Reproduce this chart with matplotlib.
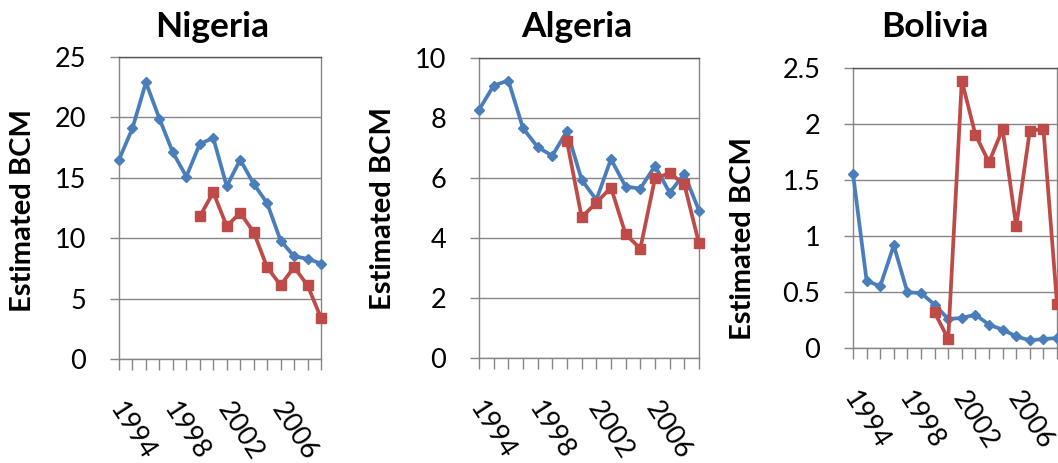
import numpy as np
from matplotlib import pyplot as plt
from matplotlib import transforms

plt.rcParams["font.family"] = ["Lato", "DejaVu Sans"]

years = list(range(1994, 2010))
red_years = years[6:]
label_years = [1994, 1998, 2002, 2006]

countries = ["Nigeria", "Algeria", "Bolivia"]

nigeria_blue = [16.5, 19.1, 22.9, 19.9, 17.1, 15.1, 17.8, 18.3, 14.3, 16.5, 14.5, 12.9, 9.8, 8.5, 8.3, 7.9]
nigeria_red = [11.8, 13.8, 11.0, 12.1, 10.5, 7.6, 6.1, 7.6, 6.1, 3.4]

algeria_blue = [8.27, 9.08, 9.25, 7.66, 7.03, 6.74, 7.57, 5.94, 5.27, 6.63, 5.71, 5.65, 6.40, 5.51, 6.14, 4.91]
algeria_red = [7.22, 4.69, 5.18, 5.68, 4.12, 3.65, 5.99, 6.16, 5.79, 3.82]

bolivia_blue = [1.556, 0.601, 0.551, 0.917, 0.497, 0.491, 0.387, 0.259, 0.268, 0.298, 0.208, 0.164, 0.104, 0.068, 0.080, 0.089]
bolivia_red = [0.318, 0.080, 2.387, 1.905, 1.658, 1.955, 1.086, 1.940, 1.955, 0.396]

blue_series = [nigeria_blue, algeria_blue, bolivia_blue]
red_series = [nigeria_red, algeria_red, bolivia_red]
y_ticks = [[0, 5, 10, 15, 20, 25], [0, 2, 4, 6, 8, 10], [0, 0.5, 1, 1.5, 2, 2.5]]
y_ticklabels = [["0", "5", "10", "15", "20", "25"],
                ["0", "2", "4", "6", "8", "10"],
                ["0", "0.5", "1", "1.5", "2", "2.5"]]

BLUE = "#4A7EBB"
RED = "#BE4B48"
GRID = "#868686"

# layout in pixels (left, top, right, bottom)
W, H = 1058, 463
boxes = [(119, 57, 321, 359), (479, 58, 699, 358), (853, 68, 1057, 348)]
title_x = [212, 577, 935]
ylabel_pos = [(23, 210), (383, 208), (743, 238)]

fig = plt.figure(figsize=(W / 100, H / 100), dpi=100)

for i, name in enumerate(countries):
    l, t, r, b = boxes[i]
    ax = fig.add_axes([l / W, 1 - b / H, (r - l) / W, (b - t) / H])

    ax.plot(years, blue_series[i], color=BLUE, lw=2.7, marker="D", ms=5.2,
            clip_on=False, zorder=3)
    ax.plot(red_years, red_series[i], color=RED, lw=2.7, marker="s", ms=7,
            clip_on=False, zorder=4)

    ax.set_xlim(years[0], years[-1])
    ax.set_ylim(y_ticks[i][0], y_ticks[i][-1])
    ax.set_yticks(y_ticks[i], y_ticklabels[i])
    ax.set_xticks(years, [str(y) if y in label_years else "" for y in years])

    ax.grid(axis="y", color=GRID, lw=1)
    ax.set_axisbelow(True)
    for side in ["left", "bottom", "right", "top"]:
        ax.spines[side].set_color(GRID)
        ax.spines[side].set_linewidth(1)
    ax.spines["top"].set_color("#555555")

    ax.tick_params(axis="y", length=6.5, width=1, color=GRID, pad=17,
                   labelsize=19.5, labelcolor="black")
    ax.tick_params(axis="x", length=8, width=1, color=GRID, pad=20,
                   labelsize=19.5, labelcolor="black")
    offset = transforms.ScaledTranslation(7 / 100, 0, fig.dpi_scale_trans)
    for lab in ax.get_xticklabels():
        lab.set_rotation(-57)
        lab.set_rotation_mode("anchor")
        lab.set_ha("left")
        lab.set_va("top")
        lab.set_transform(lab.get_transform() + offset)

    fig.text(title_x[i] / W, 1 - 37 / H, name, ha="center", va="baseline",
             fontsize=25.5, fontweight="bold")
    lx, ly = ylabel_pos[i]
    fig.text(lx / W, 1 - ly / H, "Estimated BCM", rotation=90, ha="center",
             va="center", fontsize=21, fontweight="bold")

fig.savefig("out.png", dpi=100)
